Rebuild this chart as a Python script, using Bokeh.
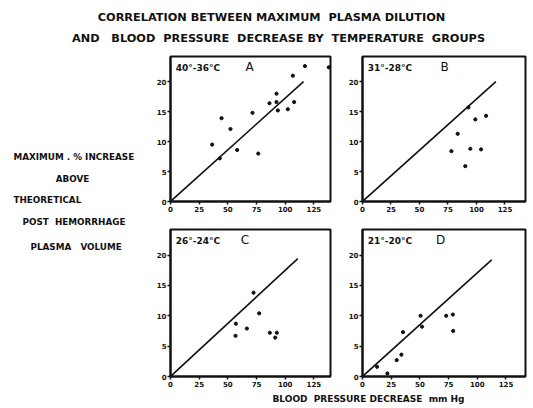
from bokeh.plotting import figure
from bokeh.layouts import column, row
from bokeh.models import Range1d, FixedTicker, Label
from bokeh.embed import file_html
from bokeh.resources import INLINE

# Temperature groups
panel_letters = ["A", "B", "C", "D"]
temp_ranges = ["40°-36°C", "31°-28°C", "26°-24°C", "21°-20°C"]

# Blood pressure decrease (mm Hg) vs maximum % plasma dilution
bp_a = [36.3, 43.0, 44.5, 52.3, 58.1, 71.5, 76.5, 86.3, 92.4, 92.4, 93.6, 102.3, 106.7, 107.8, 117.2, 138.0]
pd_a = [9.5, 7.2, 13.9, 12.1, 8.6, 14.8, 8.0, 16.4, 18.0, 16.6, 15.2, 15.4, 21.0, 16.6, 22.6, 22.4]

bp_b = [92.9, 99.0, 108.4, 83.5, 78.0, 94.6, 104.0, 90.2]
pd_b = [15.7, 13.7, 14.3, 11.3, 8.4, 8.8, 8.7, 5.9]

bp_c = [72.4, 77.3, 57.0, 66.6, 56.7, 86.6, 92.7, 91.3]
pd_c = [13.8, 10.4, 8.7, 7.9, 6.7, 7.2, 7.2, 6.4]

bp_d = [12.7, 21.7, 29.8, 33.9, 35.3, 50.6, 51.8, 72.9, 78.7, 79.0]
pd_d = [1.6, 0.5, 2.7, 3.6, 7.3, 10.0, 8.2, 10.0, 10.2, 7.5]

# Fitted lines through the origin: end point of each line
fit_end_x = [116.0, 117.0, 111.0, 112.5]
fit_end_y = [20.0, 20.0, 19.4, 19.2]

x_ticks = [0, 25, 50, 75, 100, 125]
y_ticks = [0, 5, 10, 15, 20]

# wide word gaps use no-break spaces so SVG keeps them
NB = "\u00a0"
title_lines = ["CORRELATION BETWEEN MAXIMUM" + NB + NB + "PLASMA DILUTION",
               "AND" + NB * 3 + "BLOOD" + NB * 2 + "PRESSURE" + NB * 2 + "DECREASE"
               + NB + "BY" + NB * 2 + "TEMPERATURE" + NB * 2 + "GROUPS"]
y_label_lines = ["MAXIMUM . %" + NB + "INCREASE", "ABOVE", "THEORETICAL",
                 "POST" + NB * 2 + "HEMORRHAGE", "PLASMA" + NB * 3 + "VOLUME"]
x_label = "BLOOD" + NB * 2 + "PRESSURE" + NB + "DECREASE" + NB * 2 + "mm Hg"

FONT = "DejaVu Sans"
INK = "#111111"

bp_series = [bp_a, bp_b, bp_c, bp_d]
pd_series = [pd_a, pd_b, pd_c, pd_d]


def blank(width, height, x_rng, y_rng):
    f = figure(width=width, height=height, x_range=x_rng, y_range=y_rng,
               output_backend="svg", toolbar_location=None,
               min_border=0, outline_line_color=None)
    f.axis.visible = False
    f.grid.visible = False
    return f


def panel(i, width, height, left, right, top, bottom, x_end):
    p = figure(width=width, height=height, output_backend="svg",
               toolbar_location=None,
               x_range=Range1d(0, x_end), y_range=Range1d(0, 24.2),
               min_border_left=left, min_border_right=right,
               min_border_top=top, min_border_bottom=bottom)
    p.grid.visible = False
    p.outline_line_color = INK
    p.outline_line_width = 2
    for ax in (p.xaxis, p.yaxis):
        ax.axis_line_color = INK
        ax.axis_line_width = 2
        ax.major_tick_line_color = INK
        ax.major_tick_line_width = 1.5
        ax.major_tick_out = 3
        ax.major_tick_in = 0
        ax.minor_tick_line_color = None
        ax.major_label_text_font = FONT
        ax.major_label_text_font_style = "bold"
        ax.major_label_text_font_size = "7px"
        ax.major_label_text_color = INK
        ax.major_label_standoff = 1
    p.xaxis.ticker = FixedTicker(ticks=x_ticks)
    p.yaxis.ticker = FixedTicker(ticks=y_ticks)

    p.line([0, fit_end_x[i]], [0, fit_end_y[i]], line_color=INK, line_width=1.6)
    p.scatter(bp_series[i], pd_series[i], size=3.2, color=INK)

    p.add_layout(Label(x=4.5, y=22.3, text=temp_ranges[i], text_font=FONT,
                       text_font_style="bold", text_font_size="9px",
                       text_color=INK, text_baseline="middle", text_align="left"))
    letter_x = [69, 72, 65, 68][i]
    p.add_layout(Label(x=letter_x, y=22.4, text=panel_letters[i], text_font=FONT,
                       text_font_size="12px", text_color=INK,
                       text_baseline="middle", text_align="center"))
    return p


# Title block
title_fig = blank(533, 48, Range1d(0, 533), Range1d(48, 0))
for txt, ty, tx in zip(title_lines, [17, 38], [271, 278]):
    title_fig.add_layout(Label(x=tx, y=ty, text=txt, text_font=FONT,
                               text_font_style="bold", text_font_size="11.3px",
                               text_color=INK, text_align="center",
                               text_baseline="middle"))

# Y-axis caption block
side_fig = blank(150, 345, Range1d(0, 150), Range1d(393, 48))
for txt, ty, tx, al in zip(y_label_lines, [156, 178, 199, 221, 246],
                           [13, 72, 13, 22, 30],
                           ["left", "center", "left", "left", "left"]):
    side_fig.add_layout(Label(x=tx, y=ty, text=txt, text_font=FONT,
                              text_font_style="bold", text_font_size="8.8px",
                              text_color=INK, text_align=al,
                              text_baseline="middle"))

pa = panel(0, 190, 170, 20, 10, 8, 17, 139.5)
pb = panel(1, 193, 170, 22, 8, 8, 17, 143)
pc = panel(2, 190, 175, 20, 10, 11, 17, 139.5)
pd = panel(3, 193, 175, 22, 8, 11, 17, 142)

grid = column(row(pa, pb, spacing=0), row(pc, pd, spacing=0), spacing=0)

bottom_fig = blank(533, 15, Range1d(0, 533), Range1d(408, 393))
bottom_fig.add_layout(Label(x=368, y=398, text=x_label, text_font=FONT,
                            text_font_style="bold", text_font_size="9px",
                            text_color=INK, text_align="center",
                            text_baseline="middle"))

layout = column(title_fig, row(side_fig, grid, spacing=0), bottom_fig, spacing=0)

open("out.html", "w").write(file_html(layout, INLINE))
